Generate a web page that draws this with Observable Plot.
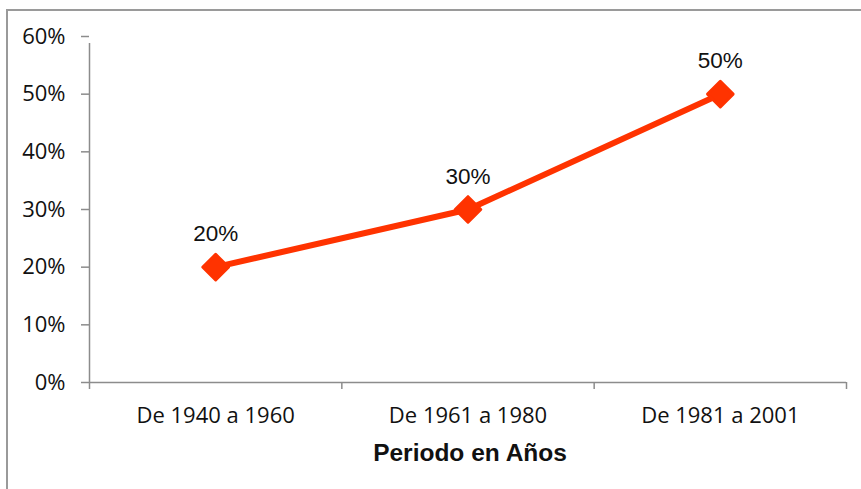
<!DOCTYPE html>
<html>
<head>
<meta charset="utf-8">
<script src="https://cdn.jsdelivr.net/npm/d3@7"></script>
<script src="https://cdn.jsdelivr.net/npm/@observablehq/plot@0.6"></script>
<style>
  html, body { margin: 0; padding: 0; background: #fff; overflow: hidden; }
  #frame { position: absolute; left: 6px; top: 9px; width: 900px; height: 600px; border: 2px solid #9a9a9a; box-sizing: border-box; }
  #chart { position: absolute; left: 0; top: 0; }
</style>
</head>
<body>
<div id="frame"></div>
<div id="chart"></div>
<script>
const categories = ["De 1940 a 1960", "De 1961 a 1980", "De 1981 a 2001"];
const values = [0.20, 0.30, 0.50];
const yTicks = [0, 0.1, 0.2, 0.3, 0.4, 0.5, 0.6];
const axisTitle = "Periodo en Años";

const data = categories.map((c, i) => ({ cat: c, pos: i + 0.5, value: values[i] }));
const pct = d => Math.round(d * 100) + "%";
const gray = "#8c8c8c";
const red = "#ff3300";

const chart = Plot.plot({
  width: 861,
  height: 489,
  marginLeft: 89,
  marginRight: 15,
  marginTop: 36,
  marginBottom: 107,
  style: { fontFamily: "'Open Sans', sans-serif", fontSize: "22px", background: "transparent", overflow: "visible" },
  x: { domain: [0, categories.length], axis: null },
  y: { domain: [0, 0.6], axis: null },
  marks: [
    Plot.ruleX([0], { stroke: gray, strokeWidth: 1.5, y1: 0, y2: 0.6, insetBottom: -7 }),
    Plot.ruleY([0], { stroke: gray, strokeWidth: 1.5 }),
    Plot.axisY({ ticks: yTicks, tickSize: 8, tickPadding: 16, tickFormat: pct, label: null, stroke: gray, strokeWidth: 1.5, fill: "#111" }),
    Plot.axisX({ ticks: d3.range(0, categories.length + 1), tickSize: 7, tickFormat: () => "", label: null, stroke: gray, strokeWidth: 1.5 }),
    Plot.axisX({ ticks: data.map(d => d.pos), tickSize: 0, tickPadding: 25, tickFormat: p => categories[Math.floor(p)], label: null, fill: "#111" }),
    Plot.lineY(data, { x: "pos", y: "value", stroke: red, strokeWidth: 6 }),
    Plot.dot(data, { x: "pos", y: "value", symbol: "square", r: 10.2, rotate: 45, fill: red, stroke: red, strokeWidth: 3, strokeLinejoin: "round" }),
    Plot.text(data, { x: "pos", y: "value", text: d => pct(d.value), dy: -33, fontFamily: "'Liberation Sans', Arial, sans-serif", fontSize: 22.5, fill: "#111" }),
    Plot.text([axisTitle], { frameAnchor: "bottom", dy: 71, dx: 2, lineAnchor: "middle", fontFamily: "'Liberation Sans', Arial, sans-serif", fontWeight: "bold", fontSize: 24.5, letterSpacing: "0.9px", fill: "#111" })
  ]
});
document.getElementById("chart").appendChild(chart);
</script>
</body>
</html>
